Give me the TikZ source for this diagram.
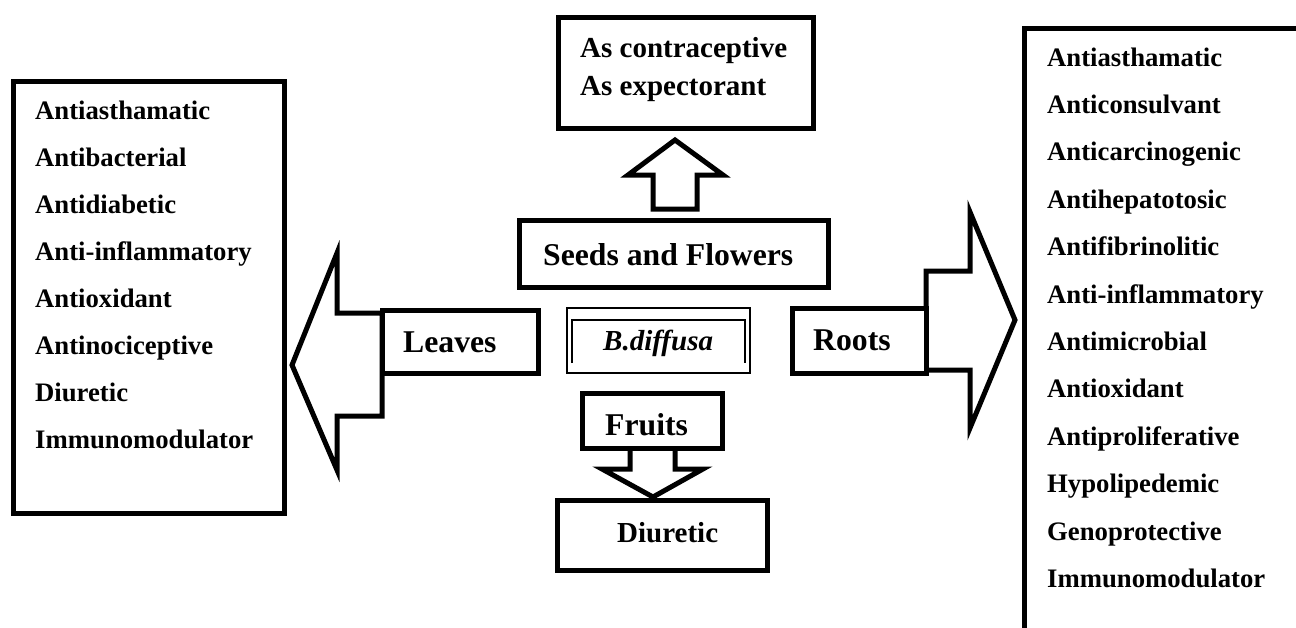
\documentclass[tikz,border=0pt]{standalone}
\usepackage{fontspec}
\setmainfont{Liberation Serif}
\tikzset{
  box/.style={draw, line width=5pt, fill=white, rectangle, inner sep=0pt, outer sep=0pt},
  blk/.style={draw, line width=5pt, fill=white, line join=miter},
  lst/.style={anchor=base west, inner sep=0pt, font=\fontsize{26.7}{30}\selectfont\bfseries},
  mid/.style={anchor=base west, inner sep=0pt, font=\fontsize{29}{32}\selectfont\bfseries},
  big/.style={anchor=base west, inner sep=0pt, font=\fontsize{31.7}{35}\selectfont\bfseries},
  ital/.style={anchor=base west, inner sep=0pt, font=\fontsize{29}{32}\selectfont\bfseries\itshape},
}
\begin{document}
\begin{tikzpicture}[x=1pt,y=-1pt]
\useasboundingbox (0,0) rectangle (1296,627);
\clip (0,0) rectangle (1296,627);
% block arrows
\draw[blk] (292,365) -- (337,253) -- (337,313) -- (382,313) -- (382,416) -- (337,416) -- (337,470) -- cycle;
\draw[blk] (1015,320) -- (970,212) -- (970,271) -- (926,271) -- (926,370) -- (970,370) -- (970,428) -- cycle;
\draw[blk] (675,140) -- (723,175) -- (697,175) -- (697,209) -- (653,209) -- (653,175) -- (628,175) -- cycle;
\draw[blk] (653,497) -- (703,469) -- (675,469) -- (675,440) -- (630,440) -- (630,469) -- (602,469) -- cycle;
% boxes
\node[box, minimum width=271pt, minimum height=432pt] (leftlist) at (148.5,297) {};
\node[box, minimum width=300pt, minimum height=640pt, anchor=north west] (rightlist) at (1024,28) {};
\node[box, minimum width=255pt, minimum height=111pt] (topbox) at (685.5,72.5) {};
\node[box, minimum width=309pt, minimum height=67pt] (seeds) at (673.5,253.5) {};
\node[box, minimum width=156pt, minimum height=63pt] (leaves) at (460,341.5) {};
\node[box, minimum width=134pt, minimum height=65pt] (roots) at (859,340.5) {};
\node[box, minimum width=140pt, minimum height=55pt] (fruits) at (652,420.5) {};
\node[box, minimum width=210pt, minimum height=70pt] (diur) at (662,535) {};
\node[draw, line width=1.2pt, fill=white, inner sep=0pt, outer sep=0pt, minimum width=183pt, minimum height=65pt] (bd) at (658.5,340.5) {};
\draw[line width=2.2pt] (572,363) -- (572,320) -- (745,320) -- (745,363);
% texts
\foreach \t [count=\i from 0] in {Antiasthamatic,Antibacterial,Antidiabetic,Anti-inflammatory,Antioxidant,Antinociceptive,Diuretic,Immunomodulator}
  \node[lst] (l\i) at (35,{119+47.1*\i}) {\t};
\foreach \t [count=\i from 0] in {Antiasthamatic,Anticonsulvant,Anticarcinogenic,Antihepatotosic,Antifibrinolitic,Anti-inflammatory,Antimicrobial,Antioxidant,Antiproliferative,Hypolipedemic,Genoprotective,Immunomodulator}
  \node[lst] (r\i) at (1047,{66+47.4*\i}) {\t};
\node[mid] (c1) at (580,57) {As contraceptive};
\node[mid] (c2) at (580,95) {As expectorant};
\node[big] (st) at (543,265) {Seeds and Flowers};
\node[big] (lt) at (403,352) {Leaves};
\node[big] (rt) at (813,350) {Roots};
\node[ital] (bt) at (603,350) {B.diffusa};
\node[big] (ft) at (605,435) {Fruits};
\node[mid] (dt) at (617,542) {Diuretic};
\end{tikzpicture}
\end{document}
